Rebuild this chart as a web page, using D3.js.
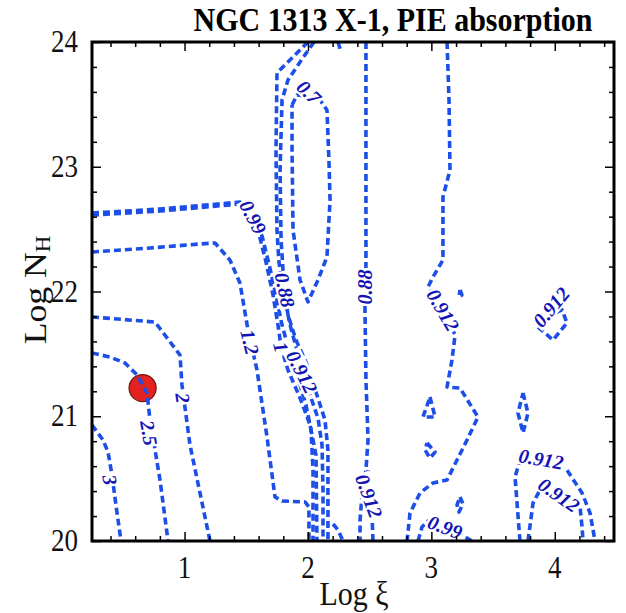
<!DOCTYPE html>
<html>
<head>
<meta charset="utf-8">
<script src="https://cdn.jsdelivr.net/npm/d3@7"></script>
<style>
  body { margin: 0; background: #fff; }
</style>
</head>
<body>
<svg id="chart" width="626" height="613"></svg>
<script>
// contour lines, points are [log xi, log NH]
const c3 = [[0.25,20.93],[0.339,20.81],[0.38,20.713],[0.412,20.529],[0.444,20.289],[0.485,20]];
const c25 = [[0.25,21.507],[0.396,21.475],[0.517,21.427],[0.615,21.331],[0.696,21.186],[0.72,20.97],
  [0.761,20.729],[0.801,20.489],[0.833,20.249],[0.866,20]];
const c2 = [[0.25,21.796],[0.761,21.755],[0.963,21.491],[0.979,21.251],[1.044,20.77],[1.125,20.385],[1.206,20]];
const c12 = [[0.25,22.317],[0.72,22.349],[1.125,22.381],[1.247,22.389],[1.368,22.252],[1.449,22.068],
  [1.514,21.691],[1.587,21.371],[1.668,20.834],[1.733,20.353],[1.79,20.321],[1.976,20.313],[2.008,20.273],[2.008,20]];
const c099a = [[0.25,22.629],[0.801,22.661],[1.449,22.717],[1.628,22.445],[1.692,22.188],[1.749,21.932],
  [1.79,21.731],[1.846,21.531],[1.919,21.307],[1.984,21.09],[2.025,20.89],[2.041,20.569],[2.041,20]];
const c1 = [[0.25,22.613],[0.801,22.645],[1.449,22.701],[1.595,22.493],[1.66,22.236],[1.717,21.972],
  [1.757,21.731],[1.782,21.555],[1.838,21.371],[1.936,21.146],[2.017,20.93],[2.065,20.689],[2.073,20]];
const c0912a = [[2.0,24],[1.879,23.88],[1.749,23.752],[1.741,23.134],[1.749,22.493],[1.765,22.236],
  [1.806,21.972],[1.855,21.731],[1.911,21.531],[1.952,21.355],[2.017,21.17],[2.081,20.986],[2.114,20.77],[2.122,20.409],[2.122,20]];
const c088a = [[2.049,24],[1.936,23.84],[1.838,23.695],[1.79,23.535],[1.774,22.974],[1.782,22.413],
  [1.798,22.172],[1.814,21.996],[1.838,21.812],[1.903,21.611],[1.984,21.435],[2.065,21.194],[2.138,20.97],[2.162,20.729],[2.162,20]];
const c07 = [[1.871,23.495],[1.911,23.575],[2.081,23.559],[2.154,23.455],[2.17,23.054],[2.179,22.733],
  [2.154,22.277],[2.081,22.092],[2.0,21.916],[1.936,22.092],[1.879,22.493],[1.871,23.134],[1.871,23.495]];
const c088b = [[2.47,24],[2.47,23.375],[2.47,22.733],[2.47,22.212],[2.462,22.036],[2.462,21.852],
  [2.47,21.291],[2.487,20.81],[2.47,20.569],[2.438,20.369],[2.422,20.168],[2.422,20]];
const c0912b = [[2.527,20],[2.519,20.208],[2.495,20.369],[2.487,20.569]];
const cBitLow = [[2.203,20.136],[2.244,20.088],[2.284,20]];
const cBitTop = [[2.244,24],[2.268,23.92]];
const c0912c = [[3.127,24],[3.143,23.535],[3.151,22.974],[3.094,22.758],[3.094,22.252],[3.013,22.116],
  [2.973,22.036],[3.094,21.852],[3.192,21.651],[3.167,21.451],[3.127,21.234],[3.232,21.226],[3.378,20.994],
  [3.289,20.81],[3.127,20.489],[3.013,20.465],[2.908,20.385],[2.827,20.224],[2.803,20]];
const c099b = [[2.892,20],[2.924,20.112],[2.989,20.176],[3.151,20.104],[3.273,20.032],[3.329,20]];
const loopA = [[2.989,21.154],[3.03,20.994],[2.932,20.994],[2.989,21.154]];
const loopB = [[2.965,20.786],[3.03,20.713],[2.989,20.665],[2.949,20.729],[2.965,20.786]];
const loopDot = [[3.232,22.012],[3.248,21.972],[3.224,21.956],[3.232,22.012]];
const loopC = [[3.232,20.353],[3.256,20.297],[3.224,20.232],[3.208,20.289],[3.232,20.353]];
const loopD = [[3.743,21.186],[3.783,21.026],[3.743,20.866],[3.702,21.026],[3.743,21.186]];
const loopE = [[3.864,21.715],[3.986,21.611],[4.099,21.748],[4.059,21.852],[3.945,21.804],[3.864,21.715]];
const c0912d = [[3.718,20],[3.678,20.513],[3.718,20.649],[3.905,20.665],[4.099,20.569],[4.221,20.385],[4.286,20.224],[4.326,20]];
const c0912e = [[3.783,20],[3.824,20.305],[3.88,20.409],[4.018,20.385],[4.205,20.273],[4.221,20.112],[4.229,20]];

const contourLines = [c3, c25, c2, c12, c099a, c1, c0912a, c088a, c07, c088b, c0912b, cBitLow, cBitTop,
  c0912c, c099b, loopA, loopB, loopDot, loopC, loopD, loopE, c0912d, c0912e];

// contour level labels
const labelText  = ["3", "2.5", "2", "1.2", "0.99", "0.7", "0.88", "1", "0.912", "0.88", "0.912", "0.912", "0.912", "0.912", "0.912", "0.99"];
const labelXi    = [0.396, 0.712, 0.987, 1.53, 1.555, 2.008, 1.814, 1.782, 1.952, 2.462, 2.495, 3.094, 3.97, 3.889, 4.034, 3.111];
const labelNH    = [20.489, 20.866, 21.146, 21.595, 22.597, 23.599, 22.012, 21.555, 21.355, 22.036, 20.361, 21.852, 21.876, 20.657, 20.369, 20.112];
const labelAngle = [80, 80, 82, 76, 62, 45, 78, 75, 63, -90, 70, 60, -50, 10, 35, 20];

// best-fit point
const bestFit = [0.66, 21.226];

const xTicks = [1, 2, 3, 4];
const yTicks = [20, 21, 22, 23, 24];
const xMinor = [0.4,0.6,0.8,1.2,1.4,1.6,1.8,2.2,2.4,2.6,2.8,3.2,3.4,3.6,3.8,4.2,4.4];
const yMinor = [20.2,20.4,20.6,20.8,21.2,21.4,21.6,21.8,22.2,22.4,22.6,22.8,23.2,23.4,23.6,23.8];

const svg = d3.select("#chart");
const pL = 92, pR = 614, pT = 42, pB = 541;
const x = d3.scaleLinear().domain([0.25, 4.48]).range([pL, pR]);
const y = d3.scaleLinear().domain([20, 24]).range([pB, pT]);

const serif = "'Liberation Serif','Times New Roman',serif";
const stretch = 1.15; // figure text looks vertically stretched

const defs = svg.append("defs");
defs.append("clipPath").attr("id", "plotclip")
  .append("rect").attr("x", pL).attr("y", pT).attr("width", pR - pL).attr("height", pB - pT);
const mask = defs.append("mask").attr("id", "labelgaps")
  .attr("maskUnits", "userSpaceOnUse").attr("x", 0).attr("y", 0).attr("width", 626).attr("height", 613);
mask.append("rect").attr("width", 626).attr("height", 613).attr("fill", "#fff");

const plot = svg.append("g").attr("clip-path", "url(#plotclip)");

plot.append("circle")
  .attr("cx", x(bestFit[0])).attr("cy", y(bestFit[1])).attr("r", 13.5)
  .attr("fill", "#e2231f").attr("stroke", "#7a1712").attr("stroke-width", 1.3);

const line = d3.line().x(d => x(d[0])).y(d => y(d[1]));

plot.append("g").attr("mask", "url(#labelgaps)")
  .selectAll("path")
  .data(contourLines)
  .join("path")
  .attr("d", line)
  .attr("fill", "none")
  .attr("stroke", "#1c4ee8")
  .attr("stroke-width", 3.6)
  .attr("stroke-dasharray", "7,4")
  .attr("stroke-linejoin", "round");

const labs = plot.selectAll("text.lab")
  .data(labelText)
  .join("text")
  .attr("class", "lab")
  .attr("transform", (d, i) => `translate(${x(labelXi[i])},${y(labelNH[i])}) rotate(${labelAngle[i]})`)
  .attr("text-anchor", "middle")
  .attr("dy", "0.35em")
  .attr("font-family", serif)
  .attr("font-style", "italic")
  .attr("font-weight", "bold")
  .attr("font-size", 20)
  .attr("fill", "#1414b4")
  .text(d => d);

// cut the contour lines where the labels sit
labs.each(function() {
  const b = this.getBBox();
  mask.append("rect")
    .attr("transform", this.getAttribute("transform"))
    .attr("x", b.x - 1.5).attr("y", b.y + 2).attr("width", b.width + 3).attr("height", b.height - 4)
    .attr("fill", "#000");
});

// ticks, pointing inwards on every side
const axes = svg.append("g");
function tickSet(axisFn, vals, size, transform) {
  axes.append("g").attr("transform", transform)
    .call(axisFn.tickValues(vals).tickSize(-size).tickFormat(""))
    .call(g => g.select(".domain").remove())
    .call(g => g.selectAll("line").attr("stroke", "#000").attr("stroke-width", 1.5));
}
tickSet(d3.axisBottom(x), xTicks, 9, `translate(0,${pB})`);
tickSet(d3.axisBottom(x), xMinor, 5, `translate(0,${pB})`);
tickSet(d3.axisTop(x), xTicks, 9, `translate(0,${pT})`);
tickSet(d3.axisTop(x), xMinor, 5, `translate(0,${pT})`);
tickSet(d3.axisLeft(y), yTicks, 9, `translate(${pL},0)`);
tickSet(d3.axisLeft(y), yMinor, 5, `translate(${pL},0)`);
tickSet(d3.axisRight(y), yTicks, 9, `translate(${pR},0)`);
tickSet(d3.axisRight(y), yMinor, 5, `translate(${pR},0)`);

svg.append("rect")
  .attr("x", pL).attr("y", pT).attr("width", pR - pL).attr("height", pB - pT)
  .attr("fill", "none").attr("stroke", "#000").attr("stroke-width", 3);

// tick labels
svg.selectAll("text.xt").data(xTicks).join("text")
  .attr("class", "xt")
  .attr("transform", d => `translate(${x(d)},578) scale(1,${stretch})`)
  .attr("text-anchor", "middle")
  .attr("font-family", serif).attr("font-size", 27).attr("fill", "#111")
  .text(d => d);

svg.selectAll("text.yt").data(yTicks).join("text")
  .attr("class", "yt")
  .attr("transform", d => `translate(78,${y(d) + 10}) scale(1,${stretch})`)
  .attr("text-anchor", "end")
  .attr("font-family", serif).attr("font-size", 27).attr("fill", "#111")
  .text(d => d);

// title and axis titles
svg.append("text")
  .attr("transform", `translate(393,31) scale(1,${stretch})`)
  .attr("text-anchor", "middle")
  .attr("font-family", serif).attr("font-weight", "bold").attr("font-size", 30).attr("fill", "#000")
  .text("NGC 1313 X-1, PIE absorption");

svg.append("text")
  .attr("transform", `translate(354,605) scale(1,${stretch})`)
  .attr("text-anchor", "middle")
  .attr("font-family", serif).attr("font-size", 30).attr("fill", "#111")
  .text("Log ξ");

const yl = svg.append("text")
  .attr("transform", `translate(46,290) rotate(-90) scale(${stretch},1)`)
  .attr("text-anchor", "middle")
  .attr("font-family", serif).attr("font-size", 31).attr("fill", "#111");
yl.append("tspan").text("Log N");
yl.append("tspan").attr("font-size", 20).attr("dy", 4).text("H");
</script>
</body>
</html>
